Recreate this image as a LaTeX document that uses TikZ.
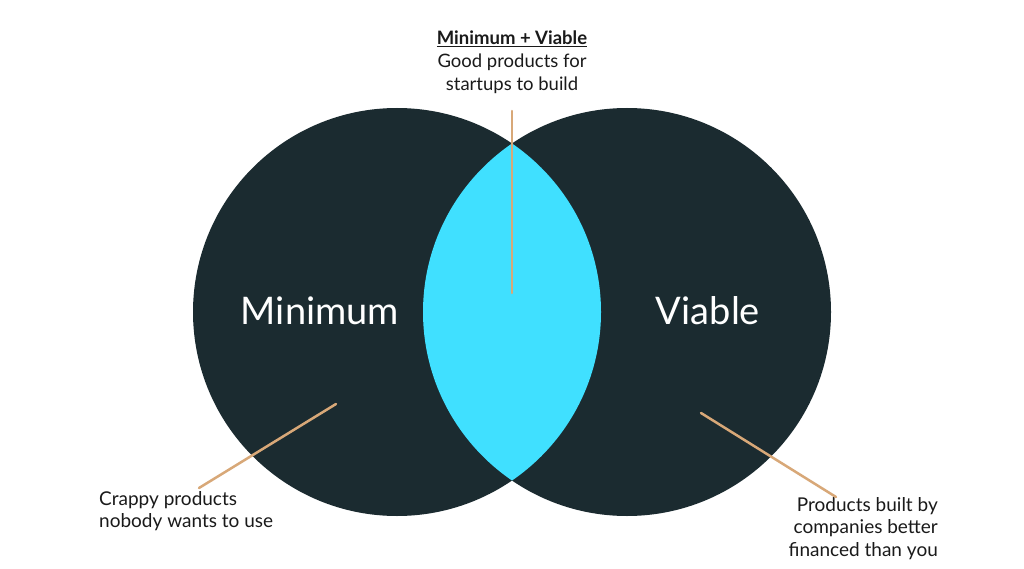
\documentclass[tikz,border=0pt]{standalone}
\usepackage{fontspec}
\setmainfont{Lato}
\definecolor{venndark}{HTML}{1B2B30}
\definecolor{venncyan}{HTML}{40E0FF}
\definecolor{venntan}{HTML}{D8A878}
\definecolor{venntext}{HTML}{1A1A1A}
\begin{document}
\begin{tikzpicture}[x=1pt,y=-1pt,line cap=round,
	pointer/.style={draw=venntan,line width=2.5pt},
	note/.style={font=\fontsize{19}{22.5}\selectfont,text=venntext,inner sep=0pt},
	big/.style={font=\fontsize{38}{44}\selectfont,text=white,inner sep=0pt}]
		\useasboundingbox[fill=white] (0,0) rectangle (1024,569);
		% the two sets
		\fill[venndark] (397,312) circle (204pt);
		\fill[venndark] (627,312) circle (204pt);
		\begin{scope}
			\clip (397,312) circle (204pt);
			\fill[venncyan] (627,312) circle (204pt);
		\end{scope}
		\node[big,anchor=base] (minimum) at (320,324) {Minimum};
		\node[big,anchor=base] (viable) at (708,324) {Viable};
		% notes
		\node[note,font=\fontsize{18.5}{23}\selectfont,align=center,anchor=north] (both) at (512,31) {\underline{\textbf{Minimum + Viable}}\\Good products for\\startups to build};
		\node[note,align=left,anchor=north west] (crappy) at (99,491) {Crappy products\\nobody wants to use};
		\node[note,align=right,anchor=north east] (funded) at (938,497) {Products built by\\companies better\\financed than you};
		% pointers
		\coordinate (bothtop) at (512,111);
		\coordinate (bothtip) at (512,293);
		\coordinate (crappytop) at (199,488);
		\coordinate (crappytip) at (336,404);
		\coordinate (fundedtop) at (836,497);
		\coordinate (fundedtip) at (701,413);
		\draw[pointer] (bothtop) -- (bothtip);
		\draw[pointer] (crappytop) -- (crappytip);
		\draw[pointer] (fundedtop) -- (fundedtip);
\end{tikzpicture}
\end{document}
